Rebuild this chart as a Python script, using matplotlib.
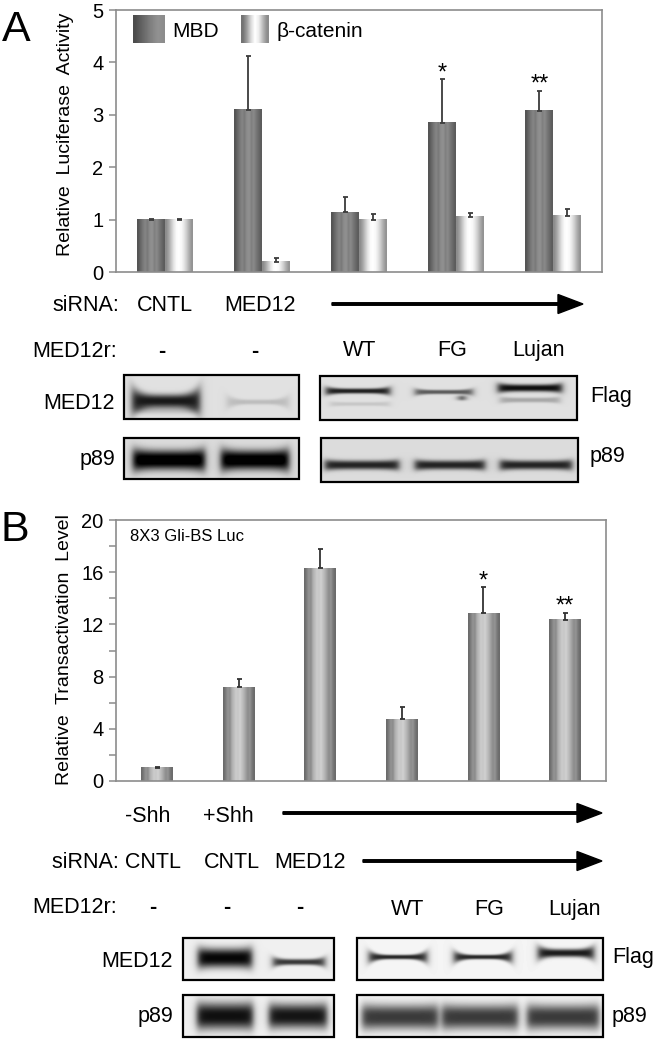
import numpy as np
import matplotlib
matplotlib.use('Agg')
import matplotlib.pyplot as plt
from matplotlib.patches import Rectangle

plt.rcParams['font.family'] = ['Liberation Sans', 'DejaVu Sans']

# ---------------- data ----------------
groups_a = ['CNTL', 'MED12', 'WT', 'FG', 'Lujan']
mbd = [1.0, 3.1, 1.14, 2.85, 3.08]
mbd_err = [0.02, 1.02, 0.30, 0.83, 0.38]
bcat = [1.0, 0.2, 1.0, 1.05, 1.07]
bcat_err = [0.02, 0.07, 0.11, 0.07, 0.13]
stars_a = ['', '', '', '*', '**']

groups_b = ['-Shh', '+Shh', 'MED12', 'WT', 'FG', 'Lujan']
gli = [1.0, 7.2, 16.3, 4.75, 12.85, 12.35]
gli_err = [0.05, 0.6, 1.5, 0.95, 2.0, 0.55]
stars_b = ['', '', '', '', '*', '**']

yticks_a = [0, 1, 2, 3, 4, 5]
yticks_b = list(range(0, 21, 2))

W, H = 661, 1041
fig = plt.figure(figsize=(W / 100, H / 100), dpi=100)

FS = 15.5      # annotation font size
TICK_FS = 14.5


def px_axes(x0, y0, x1, y1):
    return fig.add_axes([x0 / W, 1 - y1 / H, (x1 - x0) / W, (y1 - y0) / H])


def texture(ax, bars, profile):
    prof = np.array(profile)[None, :]
    for b in bars:
        x, w, h = b.get_x(), b.get_width(), b.get_height()
        ax.imshow(prof, extent=(x, x + w, 0, h), cmap='gray', vmin=0, vmax=1,
                  aspect='auto', interpolation='bilinear', zorder=2)


def style(ax):
    for s in ax.spines.values():
        s.set_color('#8c8c8c')
        s.set_linewidth(1.2)
    ax.tick_params(axis='y', length=5, width=1.1, color='#8c8c8c',
                   labelsize=TICK_FS, pad=4)
    ax.tick_params(axis='x', length=0, labelbottom=False)


mbd_prof = [0.33, 0.40, 0.47, 0.52, 0.48, 0.55, 0.57, 0.50, 0.54, 0.47, 0.42, 0.36]
bcat_prof = [0.55, 0.65, 0.78, 0.90, 0.98, 1.0, 0.97, 0.90, 0.80, 0.68, 0.58]
gli_prof = [0.42, 0.50, 0.58, 0.55, 0.68, 0.74, 0.80, 0.78, 0.82, 0.76,
            0.70, 0.62, 0.55, 0.58, 0.48, 0.42]

# ---------------- panel A chart ----------------
axA = px_axes(116, 10, 602, 272)
xa = np.arange(1, len(groups_a) + 1)
wa = 0.288
b1 = axA.bar(xa - wa / 2, mbd, wa, color='none', edgecolor='none')
b2 = axA.bar(xa + wa / 2, bcat, wa, color='none', edgecolor='none')
texture(axA, b1, mbd_prof)
texture(axA, b2, bcat_prof)
axA.errorbar(xa - wa / 2, mbd, yerr=[np.zeros(len(mbd)), mbd_err], fmt='none',
             ecolor='#3c3c3c', elinewidth=1.3, capsize=1.8, capthick=1.3, zorder=3)
axA.errorbar(xa + wa / 2, bcat, yerr=[np.zeros(len(bcat)), bcat_err], fmt='none',
             ecolor='#3c3c3c', elinewidth=1.3, capsize=1.8, capthick=1.3, zorder=3)
for i, s in enumerate(stars_a):
    if s:
        axA.text(xa[i] - wa / 2, mbd[i] + mbd_err[i], s, ha='center', va='baseline',
                 fontsize=17)
axA.set_xlim(0.5, len(groups_a) + 0.5)
axA.set_ylim(0, 5)
axA.set_yticks(yticks_a)
style(axA)

# ---------------- panel B chart ----------------
axB = px_axes(116, 520, 606, 781)
xb = np.arange(1, len(groups_b) + 1)
wb = 0.39
bb = axB.bar(xb, gli, wb, color='none', edgecolor='none')
texture(axB, bb, gli_prof)
axB.errorbar(xb, gli, yerr=[np.zeros(len(gli)), gli_err], fmt='none',
             ecolor='#333333', elinewidth=1.3, capsize=1.8, capthick=1.3, zorder=3)
for i, s in enumerate(stars_b):
    if s:
        axB.text(xb[i], gli[i] + gli_err[i], s, ha='center', va='baseline', fontsize=17)
axB.set_xlim(0.5, len(groups_b) + 0.5)
axB.set_ylim(0, 20)
axB.set_yticks(yticks_b, [str(v) if v % 4 == 0 else '' for v in yticks_b])
style(axB)
axB.text(0.029, 0.935, '8X3 Gli-BS Luc', transform=axB.transAxes, fontsize=12,
         ha='left', va='center')

# ---------------- overlay (labels, arrows, blots) ----------------
ov = fig.add_axes([0, 0, 1, 1])
ov.axis('off')


def T(x, y, s, size=FS, ha='left', va='baseline', **kw):
    ov.text(x, y, s, fontsize=size, ha=ha, va=va, **kw)


def arrow(x0, x1, y):
    ov.arrow(x0, y, x1 - x0, 0, width=2.5, head_width=19, head_length=25,
             length_includes_head=True, color='black', zorder=3)


def blot(box, bg, bands):
    x0, y0, x1, y1 = box
    w = int(round(x1 - x0))
    h = int(round(y1 - y0))
    X, Y = np.meshgrid(np.arange(w) + 0.5 + x0, np.arange(h) + 0.5 + y0)
    img = np.full((h, w), bg, float)
    for (cx, hw, cy, th, dark, end) in bands:
        u = np.abs(X - cx) / hw
        ex = 1 / (1 + np.exp((u - 1) * hw / 2.0))
        t = th * (1 + end * u ** 4)
        vy = np.exp(-(np.abs(Y - cy) / t) ** 2.5)
        img -= dark * ex * vy
    img = np.clip(img, 0, 1)
    ov.imshow(img, extent=(x0, x1, y1, y0), cmap='gray', vmin=0, vmax=1,
              aspect='auto', interpolation='bilinear', zorder=1)
    ov.add_patch(Rectangle((x0, y0), x1 - x0, y1 - y0, fill=False, ec='black',
                           lw=1.6, zorder=2))


# panel letters
T(2, 41, 'A', size=31)
T(1, 541, 'B', size=31)

# y labels
T(65, 134, 'Relative  Luciferase  Activity', size=14, ha='center', va='center',
  rotation=90)
T(65, 650, 'Relative  Transactivation  Level', size=14, ha='center', va='center',
  rotation=90)

# legend A
ov.imshow(np.array([0.30, 0.36, 0.42, 0.48, 0.53, 0.57, 0.55])[None, :],
          extent=(133, 165, 43, 15), cmap='gray', vmin=0, vmax=1, aspect='auto',
          interpolation='bilinear', zorder=1)
T(172, 37, 'MBD', size=15)
ov.imshow(np.array([0.45, 0.62, 0.85, 1.0, 0.92, 0.72, 0.55])[None, :],
          extent=(241, 269, 43, 15), cmap='gray', vmin=0, vmax=1, aspect='auto',
          interpolation='bilinear', zorder=1)
T(276, 37, 'β-catenin', size=15)

# --- panel A annotations ---
T(52, 311, 'siRNA:')
T(165, 311, groups_a[0], ha='center')
T(260, 311, groups_a[1], ha='center')
arrow(332, 583, 304)
T(32, 357, 'MED12r:')
for xx in (162, 255):
    T(xx, 357, '-', ha='center', weight='bold')
for xx, g in zip((360, 452, 539), groups_a[2:]):
    T(xx, 356, g, ha='center')
T(115, 409, 'MED12', ha='right')
T(115, 465, 'p89', ha='right')
T(590, 402, 'Flag')
T(590, 462, 'p89')

blot((124, 375, 299, 419), 0.88,
     [(166, 34, 401, 6.5, 0.78, 1.3), (166, 30, 410, 4, 0.12, 0.0),
      (258, 31, 402, 2.5, 0.14, 2.0)])
blot((124, 438, 299, 479), 0.86,
     [(169, 36, 460, 9.5, 0.94, 0.3), (255, 34, 460, 9.5, 0.94, 0.3)])
blot((320, 376, 577, 420), 0.88,
     [(358, 32, 391, 2.6, 0.75, 0.8), (360, 30, 404, 2.0, 0.10, 0.5),
      (444, 29, 392, 2.2, 0.52, 0.8), (462, 4, 398, 2.5, 0.5, 0.0),
      (530, 32, 388, 3.6, 0.82, 0.5), (530, 30, 400, 2.5, 0.22, 0.5)])
blot((321, 438, 578, 482), 0.86,
     [(362, 37, 465, 4.5, 0.72, 0.3), (450, 35, 465, 4.5, 0.72, 0.3),
      (536, 36, 465, 4.5, 0.72, 0.3)])

# --- panel B annotations ---
T(148, 822, groups_b[0], ha='center')
T(228, 822, groups_b[1], ha='center')
arrow(283, 602, 813)
T(52, 868, 'siRNA: CNTL')
T(232, 868, 'CNTL', ha='center')
T(310, 868, groups_b[2], ha='center')
arrow(363, 602, 861)
T(32, 913, 'MED12r:')
for xx in (153, 227, 300):
    T(xx, 913, '-', ha='center', weight='bold')
for xx, g in zip((408, 489, 575), groups_b[3:]):
    T(xx, 915, g, ha='center')
T(173, 967, 'MED12', ha='right')
T(173, 1022, 'p89', ha='right')
T(612, 963, 'Flag')
T(612, 1022, 'p89')

blot((183, 938, 334, 980), 0.94,
     [(225, 27, 958, 9.5, 0.92, 0.2), (299, 26, 962, 3, 0.72, 0.9)])
blot((183, 995, 334, 1037), 0.94,
     [(225, 28, 1016, 13, 0.88, 0.1), (298, 29, 1016, 12, 0.86, 0.1)])
blot((357, 938, 603, 980), 0.96,
     [(398, 29, 957, 2.3, 0.8, 2.0), (483, 29, 957, 2.3, 0.8, 2.0),
      (566, 28, 953, 4, 0.85, 1.0)])
blot((357, 995, 603, 1037), 0.95,
     [(400, 38, 1017, 12, 0.72, 0.1), (480, 38, 1017, 12, 0.72, 0.1),
      (563, 36, 1017, 12, 0.72, 0.1)])

ov.set_xlim(0, W)
ov.set_ylim(H, 0)

fig.savefig('out.png', dpi=100)
